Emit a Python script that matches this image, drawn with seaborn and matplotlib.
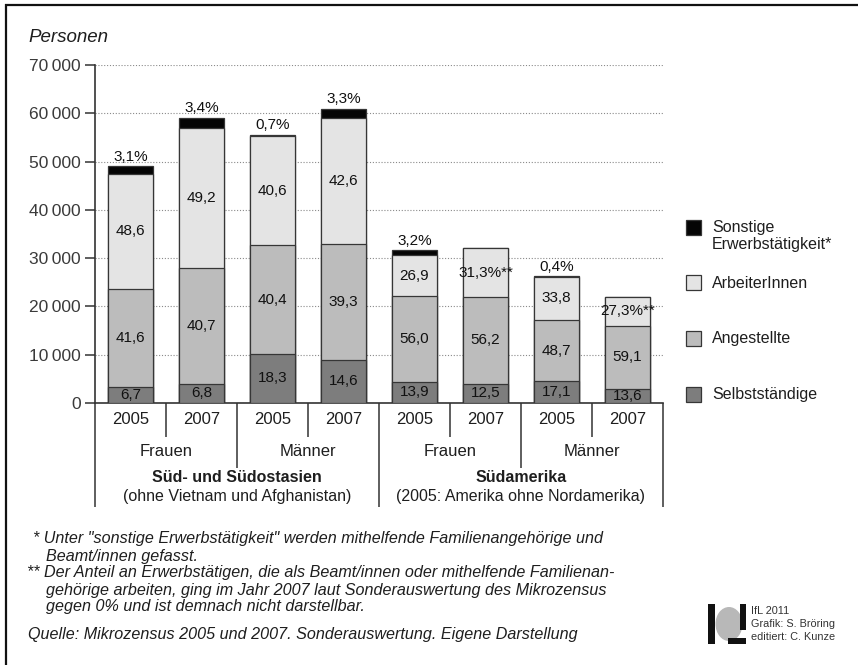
import matplotlib
matplotlib.use("Agg")
import matplotlib.pyplot as plt
import matplotlib.transforms as mtransforms
from matplotlib.patches import Rectangle, Ellipse
import seaborn as sns
import pandas as pd

# --- data -------------------------------------------------------------
bar_keys = ["SA-F-2005", "SA-F-2007", "SA-M-2005", "SA-M-2007",
            "AM-F-2005", "AM-F-2007", "AM-M-2005", "AM-M-2007"]
years = ["2005", "2007", "2005", "2007", "2005", "2007", "2005", "2007"]
sexes = ["Frauen", "Männer", "Frauen", "Männer"]
regions = ["Süd- und Südostasien", "Südamerika"]
region_notes = ["(ohne Vietnam und Afghanistan)", "(2005: Amerika ohne Nordamerika)"]

# persons in employment per bar (absolute)
totals = [49000, 59000, 55600, 61100, 31600, 32000, 26200, 22000]
# shares in percent
selbststaendige = [6.7, 6.8, 18.3, 14.6, 13.9, 12.5, 17.1, 13.6]
angestellte = [41.6, 40.7, 40.4, 39.3, 56.0, 56.2, 48.7, 59.1]
arbeiter = [48.6, 49.2, 40.6, 42.6, 26.9, 31.3, 33.8, 27.3]
sonstige = [3.1, 3.4, 0.7, 3.3, 3.2, 0.0, 0.4, 0.0]
# bars where the "Sonstige" share is not shown (marked with **)
starred = [False, False, False, False, False, True, False, True]

yticks = [0, 10000, 20000, 30000, 40000, 50000, 60000, 70000]

legend_labels = ["Sonstige\nErwerbstätigkeit*", "ArbeiterInnen", "Angestellte", "Selbstständige"]
colors = {"sonst": "#050505", "arb": "#e4e4e4", "ang": "#bcbcbc", "selb": "#7d7d7d"}
edge = "#363636"

FONT = ["Liberation Sans", "DejaVu Sans"]
plt.rcParams["font.family"] = FONT
TXT = "#1e1e1e"

# --- figure -----------------------------------------------------------
W, H = 858, 665
fig = plt.figure(figsize=(W / 100, H / 100), dpi=100)
fig.patch.set_facecolor("white")

Y0, Y70, XL, XR = 403, 65, 95, 663
ax = fig.add_axes([XL / W, (H - Y0) / H, (XR - XL) / W, (Y0 - Y70) / H])
sns.set_style("white")
plt.rcParams["font.family"] = FONT

df = pd.DataFrame({
    "key": bar_keys,
    "total": totals,
    "selb": selbststaendige,
    "ang": angestellte,
    "arb": arbeiter,
    "sonst": sonstige,
})
for c in ["selb", "ang", "arb", "sonst"]:
    df[c + "_abs"] = df["total"] * df[c] / 100.0
df["c1"] = df["selb_abs"]
df["c2"] = df["c1"] + df["ang_abs"]
df["c3"] = df["c2"] + df["arb_abs"]
df["c4"] = df["c3"] + df["sonst_abs"]

# stacked bars: draw cumulative heights from the top layer down
for col, key in [("c4", "sonst"), ("c3", "arb"), ("c2", "ang"), ("c1", "selb")]:
    sns.barplot(data=df, x="key", y=col, order=bar_keys, color=colors[key],
                saturation=1, width=0.63, errorbar=None, edgecolor=edge,
                linewidth=0.9, ax=ax, zorder=3)

ax.set_xlim(-0.5, 7.5)
ax.set_ylim(0, 70000)
ax.set_xlabel("")
ax.set_ylabel("")
ax.set_yticks(yticks)
ax.set_yticklabels([f"{v:,}".replace(",", "\u2009") for v in yticks],
                   fontsize=12.5, color="#3a3a3a")
ax.tick_params(axis="y", length=7, width=1.1, color="#333333", pad=3, direction="out", left=True)
ax.tick_params(axis="x", length=0, labelbottom=False)
ax.yaxis.grid(True, linestyle=(0, (1, 1.6)), color="#8a8a8a", linewidth=0.8)
ax.xaxis.grid(False)
ax.set_axisbelow(True)
for s in ["top", "right"]:
    ax.spines[s].set_visible(False)
for s in ["left", "bottom"]:
    ax.spines[s].set_color("#333333")
    ax.spines[s].set_linewidth(1.2)
ax.patch.set_alpha(0)


def fmt(v):
    return f"{v:.1f}".replace(".", ",")


# segment labels
lab_kw = dict(ha="center", fontsize=11, color="#111", zorder=5)
for i, r in df.iterrows():
    ax.text(i, r["c1"] / 2, fmt(r["selb"]), va="center", **lab_kw)
    ax.text(i, (r["c1"] + r["c2"]) / 2, fmt(r["ang"]), va="center", **lab_kw)
    arb_txt = fmt(r["arb"]) + ("%**" if starred[i] else "")
    ax.text(i, (r["c2"] + r["c3"]) / 2, arb_txt, va="center", **lab_kw)
    if r["sonst"] > 0:
        ax.text(i, r["c4"] + 500, fmt(r["sonst"]) + "%", va="bottom", **lab_kw)

# --- category table below the axis -------------------------------------
def yf(py):
    return (Y0 - py) / (Y0 - Y70)


bt = mtransforms.blended_transform_factory(ax.transData, ax.transAxes)
line_kw = dict(transform=bt, color="#333333", linewidth=1.1, clip_on=False, solid_capstyle="butt")
for xv in [0.5, 2.5, 4.5, 6.5]:
    ax.plot([xv, xv], [0, yf(437)], **line_kw)
for xv in [1.5, 5.5]:
    ax.plot([xv, xv], [0, yf(468)], **line_kw)
for xv in [-0.5, 3.5, 7.5]:
    ax.plot([xv, xv], [0, yf(507)], **line_kw)

for i, yr in enumerate(years):
    ax.text(i, yf(420), yr, transform=bt, ha="center", va="center", fontsize=12, color=TXT)
for j, sx in enumerate(sexes):
    ax.text(2 * j + 0.5, yf(452), sx, transform=bt, ha="center", va="center", fontsize=12, color=TXT)
for j, (rg, nt) in enumerate(zip(regions, region_notes)):
    ax.text(4 * j + 1.5, yf(478), rg, transform=bt, ha="center", va="center", fontsize=11.5,
            fontweight="bold", color=TXT)
    ax.text(4 * j + 1.5, yf(496), nt, transform=bt, ha="center", va="center", fontsize=11.5, color=TXT)

# --- overlay in pixel coordinates -------------------------------------
ov = fig.add_axes([0, 0, 1, 1], zorder=-1)
ov.set_xlim(0, W)
ov.set_ylim(H, 0)
ov.axis("off")

# frame lines
ov.plot([5, W], [4.5, 4.5], color="#111", linewidth=1.6, solid_capstyle="butt")
ov.plot([5.5, 5.5], [4, H], color="#111", linewidth=1.6, solid_capstyle="butt")

ov.text(28, 38, "Personen", fontsize=13.5, style="italic", color=TXT, va="center", ha="left")

# legend
leg_y = [227, 283, 339, 395]
leg_c = [colors["sonst"], colors["arb"], colors["ang"], colors["selb"]]
for yy, cc, lab in zip(leg_y, leg_c, legend_labels):
    ov.add_patch(Rectangle((686, yy - 8 if cc != colors["sonst"] else 220), 15, 15,
                           facecolor=cc, edgecolor=edge, linewidth=0.9))
    ov.text(712, (yy if "\n" not in lab else 236), lab, fontsize=11.5, color=TXT,
            va="center", ha="left", linespacing=1.15)

# footnotes
fn = dict(fontsize=11.6, style="italic", color=TXT, va="center", ha="left")
ov.text(33, 539, "* Unter \"sonstige Erwerbstätigkeit\" werden mithelfende Familienangehörige und", **fn)
ov.text(46, 556, "Beamt/innen gefasst.", **fn)
ov.text(27, 573, "** Der Anteil an Erwerbstätigen, die als Beamt/innen oder mithelfende Familienan-", **fn)
ov.text(46, 590, "gehörige arbeiten, ging im Jahr 2007 laut Sonderauswertung des Mikrozensus", **fn)
ov.text(46, 607, "gegen 0% und ist demnach nicht darstellbar.", **fn)
ov.text(28, 634, "Quelle: Mikrozensus 2005 und 2007. Sonderauswertung. Eigene Darstellung", **fn)

# institute mark
ov.add_patch(Rectangle((708, 604), 7, 40, facecolor="#111", edgecolor="none"))
ov.add_patch(Ellipse((729, 624), 27, 34, facecolor="#b8b8b8", edgecolor="none"))
ov.add_patch(Rectangle((740, 604), 6, 26, facecolor="#111", edgecolor="none"))
ov.add_patch(Rectangle((728, 638), 18, 6, facecolor="#111", edgecolor="none"))
cr = dict(fontsize=7.8, color="#333", va="center", ha="left")
ov.text(751, 611, "IfL 2011", **cr)
ov.text(751, 624, "Grafik: S. Bröring", **cr)
ov.text(751, 637, "editiert: C. Kunze", **cr)

fig.savefig("out.png", dpi=100, facecolor="white")
